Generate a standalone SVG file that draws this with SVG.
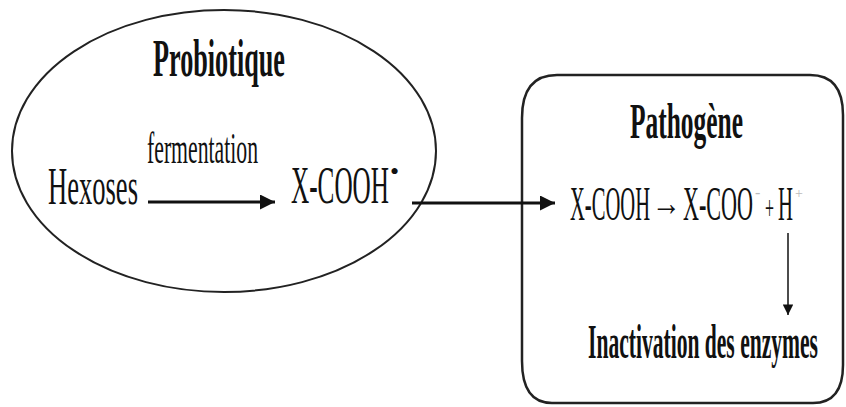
<svg xmlns="http://www.w3.org/2000/svg" width="846" height="407" viewBox="0 0 846 407">
<defs>
<style>
text{font-family:"Liberation Serif","Times New Roman",serif;fill:#111;}
.b{font-weight:bold;}
.shape{fill:none;stroke:#222;}
.conn{stroke:#111;fill:none;}
.faint{fill:#bbb;}
</style>
<marker id="ah" viewBox="0 0 10 10" refX="10" refY="5" markerWidth="5" markerHeight="5" markerUnits="strokeWidth" orient="auto">
<path d="M0,0 L10,5 L0,10 Z" fill="#111"/>
</marker>
<marker id="ahl" viewBox="0 0 10 10" refX="10" refY="5" markerWidth="26" markerHeight="7" markerUnits="strokeWidth" orient="auto">
<path d="M0,0 L10,5 L0,10 Z" fill="#111"/>
</marker>
</defs>
<rect width="846" height="407" fill="#fff"/>
<g id="probiotique">
<ellipse class="shape" cx="224" cy="151" rx="212" ry="141" stroke-width="2"/>
<text class="b" x="153" y="76" font-size="52" textLength="132" lengthAdjust="spacingAndGlyphs">Probiotique</text>
<text x="48" y="204" font-size="52" textLength="90" lengthAdjust="spacingAndGlyphs">Hexoses</text>
<text x="147" y="163" font-size="44" textLength="111" lengthAdjust="spacingAndGlyphs">fermentation</text>
<text x="291" y="203" font-size="52" textLength="98" lengthAdjust="spacingAndGlyphs">X-COOH</text>
<text x="390" y="180" font-size="26">•</text>
</g>
<g id="pathogene">
<path class="shape" stroke-width="2.5" d="M557,75 H810 Q843,75 843,115 V365 Q843,403 813,403 H552 Q522,403 522,361 V118 Q522,75 557,75 Z"/>
<text class="b" x="630" y="138" font-size="50" textLength="113" lengthAdjust="spacingAndGlyphs">Pathogène</text>
<text x="570" y="220" font-size="48" textLength="80" lengthAdjust="spacingAndGlyphs">X-COOH</text>
<text x="652" y="215" font-size="36" textLength="29" lengthAdjust="spacingAndGlyphs">→</text>
<text x="683" y="220" font-size="48" textLength="70" lengthAdjust="spacingAndGlyphs">X-COO</text>
<text class="faint" x="755" y="198" font-size="16">-</text>
<text x="765" y="219" font-size="34" textLength="9" lengthAdjust="spacingAndGlyphs">+</text>
<text x="778" y="220" font-size="48" textLength="15" lengthAdjust="spacingAndGlyphs">H</text>
<text class="faint" x="795" y="198" font-size="14">+</text>
<text class="b" x="588" y="358" font-size="49" textLength="230" lengthAdjust="spacingAndGlyphs">Inactivation des enzymes</text>
</g>
<g id="connectors">
<line class="conn" x1="148" y1="202" x2="275" y2="202" stroke-width="3" marker-end="url(#ah)"/>
<line class="conn" x1="412" y1="203" x2="555" y2="203" stroke-width="3" marker-end="url(#ah)"/>
<line class="conn" x1="788" y1="233" x2="788" y2="315" stroke-width="1.5" marker-end="url(#ahl)"/>
</g>
</svg>
